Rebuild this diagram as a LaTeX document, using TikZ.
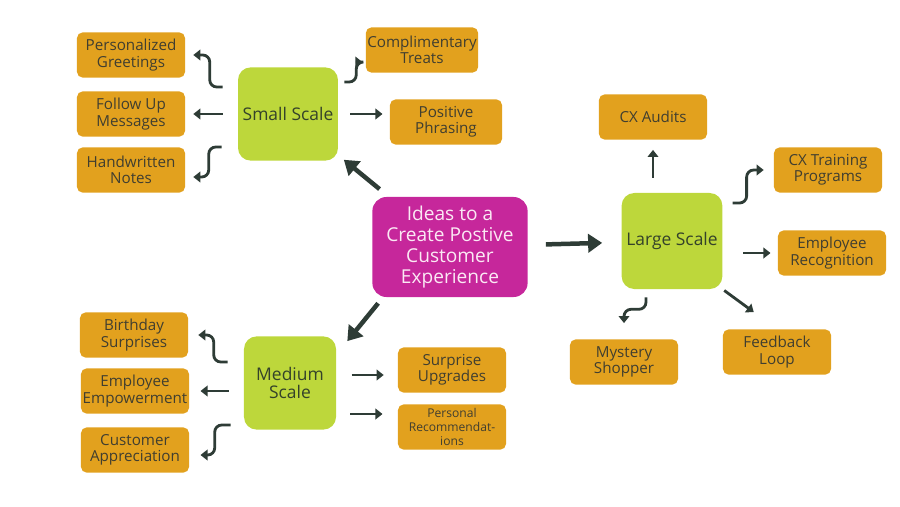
\documentclass[tikz,border=0pt]{standalone}
\usepackage{fontspec}
\setmainfont{Open Sans}
\usetikzlibrary{arrows.meta, positioning, calc}
\definecolor{ideaorange}{HTML}{E2A11E}
\definecolor{ideagreen}{HTML}{BDD73B}
\definecolor{ideamagenta}{HTML}{C6279B}
\definecolor{ideaarrow}{HTML}{2E3C36}
\definecolor{orangetext}{HTML}{403E30}
\definecolor{greentext}{HTML}{34422A}
\definecolor{pinktext}{HTML}{FBE9F4}
\tikzset{
    box_orange/.style={
        rectangle, rounded corners=4pt, fill=ideaorange, text=orangetext,
        minimum width=2.7cm, minimum height=1.13cm, inner sep=1pt,
        align=center, font=\fontsize{10.8}{11.6}\selectfont
    },
    box_green/.style={
        rectangle, rounded corners=9pt, fill=ideagreen, text=greentext,
        minimum width=2.4cm, minimum height=2.33cm,
        align=center, font=\fontsize{12.4}{13}\selectfont
    },
    box_magenta/.style={
        rectangle, rounded corners=10pt, fill=ideamagenta, text=pinktext,
        minimum width=3.88cm, minimum height=2.5cm,
        align=center, font=\fontsize{13.6}{14.8}\selectfont
    },
    thin_arrow/.style={
        -{Triangle[length=5pt, width=7.5pt]}, line width=2pt, draw=ideaarrow
    },
    bend_arrow/.style={
        thin_arrow, rounded corners=5pt
    },
    big_arrow/.style={
        -{Triangle[length=10pt, width=13pt]}, line width=3.2pt, draw=ideaarrow
    }
}
\begin{document}
\begin{tikzpicture}[x=0.025cm, y=-0.025cm]

    \useasboundingbox (0,0) rectangle (900,506);

    \node[box_magenta] (center) at (450,247) {Ideas to a\\Create Postive\\Customer\\Experience};

    % small scale
    \node[box_green] (small) at (288,114) {Small Scale};
    \node[box_orange] (greet) at (131,55) {Personalized\\Greetings};
    \node[box_orange] (follow) at (131,114) {Follow Up\\Messages};
    \node[box_orange] (hand) at (131,170) {Handwritten\\Notes};
    \node[box_orange] (comp) at (422,50) {Complimentary\\Treats};
    \node[box_orange, minimum width=2.8cm] (phr) at (446,122) {Positive\\Phrasing};

    % medium scale
    \node[box_green, minimum width=2.3cm] (medium) at (290,383) {Medium\\Scale};
    \node[box_orange] (birth) at (134,335) {Birthday\\Surprises};
    \node[box_orange] (empow) at (135,391) {Employee\\Empowerment};
    \node[box_orange] (cust) at (135,450) {Customer\\Appreciation};
    \node[box_orange] (surp) at (452,370) {Surprise\\Upgrades};
    \node[box_orange, font=\fontsize{8.6}{10}\selectfont] (pers) at (452,427) {Personal\\Recommendat-\\ions};

    % large scale
    \node[box_green, minimum width=2.48cm, minimum height=2.4cm] (large) at (672,241) {Large Scale};
    \node[box_orange] (audits) at (653,117) {CX Audits};
    \node[box_orange] (train) at (828,170) {CX Training\\Programs};
    \node[box_orange] (recog) at (832,253) {Employee\\Recognition};
    \node[box_orange] (myst) at (624,362) {Mystery\\Shopper};
    \node[box_orange] (feed) at (777,352) {Feedback\\Loop};

    \draw[big_arrow, shorten <=0.3cm, shorten >=0.18cm] (center) -- (small);
    \draw[big_arrow] ($(center.south west)+(6,6)$) -- ($(medium.north east)+(11,5)$);
    \draw[big_arrow, shorten <=0.45cm, shorten >=0.48cm] (center) -- (large);

    \draw[bend_arrow, shorten >=0.2cm] ($(small.west)+(-15,-27)$) -- ++(-13,0) |- (greet.east);
    \draw[thin_arrow, shorten <=0.38cm, shorten >=0.2cm] (small.west) -- (follow.east);
    \draw[bend_arrow, shorten >=0.2cm] ($(small.west)+(-16,33)$) -- ++(-13,0) |- ($(hand.east)+(0,7)$);
    \draw[bend_arrow, shorten >=0.08cm] ($(small.east)+(6,-32)$) -- ++(12,0) |- ($(comp.west)+(0,12)$);
    \draw[thin_arrow, shorten <=0.3cm, shorten >=0.18cm] (small.east) -- (small.east -| phr.west);

    \draw[bend_arrow, shorten >=0.25cm] ($(medium.west)+(-16,-21)$) -- ++(-14,0) |- (birth.east);
    \draw[thin_arrow, shorten <=0.38cm, shorten >=0.28cm] (medium.west |- empow.east) -- (empow.east);
    \draw[bend_arrow, shorten >=0.28cm] ($(medium.west)+(-13,42)$) -- ++(-16,0) |- ($(cust.east)+(0,5)$);
    \draw[thin_arrow, shorten <=0.38cm, shorten >=0.35cm] ($(medium.east |- surp.west)+(0,5)$) -- ($(surp.west)+(0,5)$);
    \draw[thin_arrow, shorten <=0.35cm, shorten >=0.38cm] ($(medium.east |- pers.west)+(0,-13)$) -- ($(pers.west)+(0,-13)$);

    \draw[thin_arrow, shorten <=0.38cm, shorten >=0.25cm] (large.north -| audits.south) -- (audits.south);
    \draw[bend_arrow, shorten >=0.25cm] ($(large.east)+(10,-38)$) -- ++(14,0) |- (train.west);
    \draw[thin_arrow, shorten <=0.52cm, shorten >=0.18cm] (large.east |- recog.west) -- (recog.west);
    \draw[thin_arrow, shorten <=0.05cm, shorten >=0.72cm] (large.south east) -- (feed.north);
    \draw[bend_arrow, shorten >=0.4cm] ($(large.south)+(-26,8)$) -- ++(0,12) -| (myst.north);

\end{tikzpicture}
\end{document}
